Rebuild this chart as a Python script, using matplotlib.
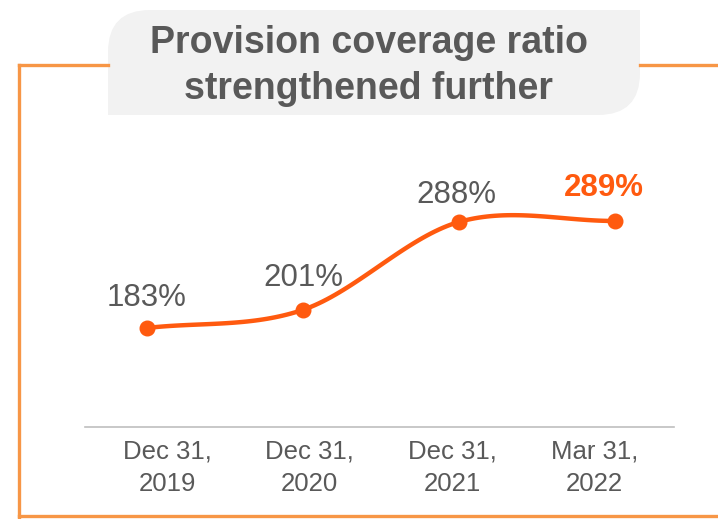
import matplotlib.pyplot as plt
import numpy as np
from matplotlib.patches import PathPatch
from matplotlib.path import Path

plt.rcParams["font.family"] = ["Liberation Sans", "DejaVu Sans"]

periods = ["Dec 31,\n2019", "Dec 31,\n2020", "Dec 31,\n2021", "Mar 31,\n2022"]
coverage = [183, 201, 288, 289]
labels = ["183%", "201%", "288%", "289%"]

W, H = 718, 519
ORANGE = "#FF5A0F"
FRAME = "#F79646"
GREY = "#595959"


def px(x, y):
    # pixel (from top-left) -> figure fraction
    return x / W, 1 - y / H


def catmull_rom(xs, ys, n=40):
    pts = np.column_stack([xs, ys]).astype(float)
    ext = np.vstack([2 * pts[0] - pts[1], pts, 2 * pts[-1] - pts[-2]])
    out = []
    for i in range(1, len(ext) - 2):
        p0, p1, p2, p3 = ext[i - 1], ext[i], ext[i + 1], ext[i + 2]
        t = np.linspace(0, 1, n)[:, None]
        seg = 0.5 * ((2 * p1) + (-p0 + p2) * t + (2 * p0 - 5 * p1 + 4 * p2 - p3) * t ** 2
                     + (-p0 + 3 * p1 - 3 * p2 + p3) * t ** 3)
        out.append(seg)
    out = np.vstack(out)
    return out[:, 0], out[:, 1]


fig = plt.figure(figsize=(W / 100, H / 100), dpi=100)

# orange frame around the panel
for (x0, y0), (x1, y1) in [((19, 65), (19, 517)), ((19, 516), (718, 516)),
                           ((19, 65), (108, 65)), ((640, 65), (718, 65))]:
    a, b = px(x0, y0)
    c, d = px(x1, y1)
    fig.add_artist(plt.Line2D([a, c], [b, d], color=FRAME, lw=2.4, transform=fig.transFigure))

# title tab: rounded top-left and bottom-right corners
r = 42
verts = [(108, 115), (108, 10 + r), (108, 10), (108 + r, 10), (640, 10),
         (640, 115 - r), (640, 115), (640 - r, 115), (108, 115)]
codes = [Path.MOVETO, Path.LINETO, Path.CURVE3, Path.CURVE3, Path.LINETO,
         Path.LINETO, Path.CURVE3, Path.CURVE3, Path.CLOSEPOLY]
tab = Path([px(x, y) for x, y in verts], codes)
fig.add_artist(PathPatch(tab, facecolor="#F2F2F2", edgecolor="none", transform=fig.transFigure))
fig.text(369 / W, 1 - 66 / H, "Provision coverage ratio\nstrengthened further", ha="center", va="center",
         fontsize=27, fontweight="bold", color=GREY, linespacing=1.33)

# category axis with baseline
ax_cat = fig.add_axes([0, 0, 1, 1], facecolor="none")
ax_cat.set_xlim(-0.58 - 85 / 142.3, -0.58 + (W - 85) / 142.3)
ax_cat.set_ylim(H, 0)
ax_cat.axis("off")
xc = np.arange(len(periods))
ax_cat.plot([-0.58, 3.56], [427, 427], color="#BFBFBF", lw=1.2)
for x, lab in zip(xc, periods):
    ax_cat.text(x, 468, lab, ha="center", va="center", fontsize=18.5, color=GREY, linespacing=1.45)

# coverage ratio line
ax = fig.add_axes([0, 0, 1, 1], facecolor="none")
ax.set_xlim(-147 / 156, (W - 147) / 156)
ax.set_ylim(183 - (H - 328) / 1.01, 183 + 328 / 1.01)
ax.axis("off")
xs = np.arange(len(coverage))
sx, sy = catmull_rom(xs, coverage)
ax.plot(sx, sy, color=ORANGE, lw=3.2, solid_capstyle="round", zorder=2)
ax.plot(xs, coverage, "o", color=ORANGE, ms=10.5, zorder=3)

offsets = [(0, 30), (0, 32), (-3, 27), (-11, 33)]
for i, (x, v, lab) in enumerate(zip(xs, coverage, labels)):
    last = i == len(coverage) - 1
    ax.annotate(lab, (x, v), xytext=offsets[i], textcoords="offset pixels", ha="center", va="center",
                fontsize=22.5, color=ORANGE if last else GREY, fontweight="bold" if last else "normal")

fig.savefig("out.png", dpi=100)
